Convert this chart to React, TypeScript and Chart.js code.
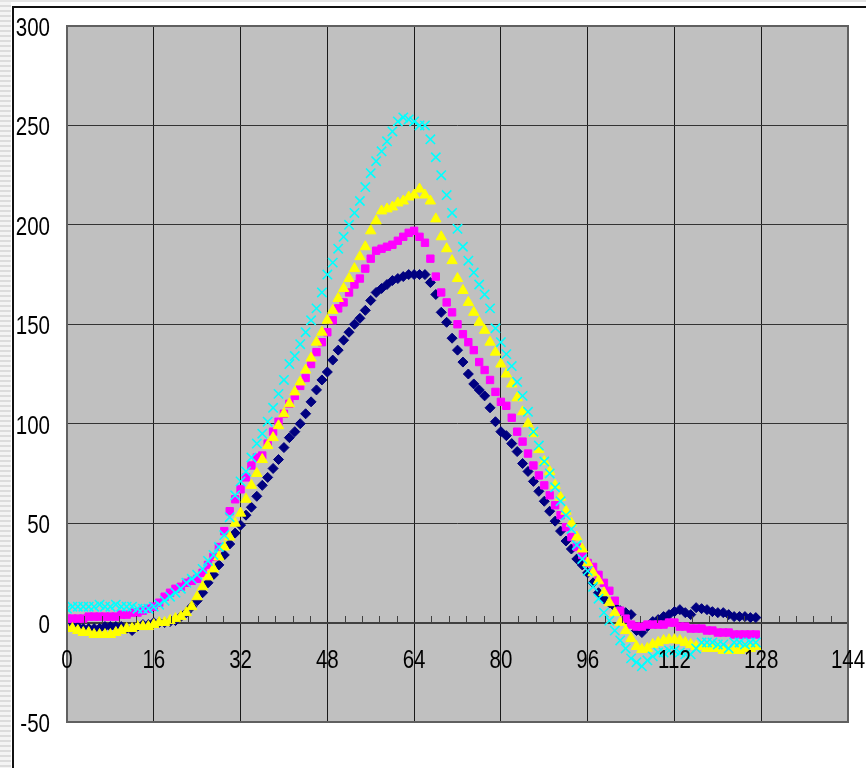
import React, { useEffect, useRef } from 'react';
import { Chart, registerables } from 'chart.js';

Chart.register(...registerables);

// Axis tick values
const xTickValues = [0, 16, 32, 48, 64, 80, 96, 112, 128, 144];
const yTickValues = [-50, 0, 50, 100, 150, 200, 250, 300];

// Series 1 (navy diamonds)
const navyValues = [
  -1, -2, -2, -3, -3, -3, -3, -2, -2, -2,
  -2, -3, -4, -2, -1, -1, 0, 0, 0, 0.5,
  1, 3, 5, 8, 11, 15, 20, 24, 29, 34,
  39.5, 45, 49, 54, 58, 63.5, 69, 73, 77.5, 82,
  88, 93, 96, 100, 105, 111, 117, 122, 126, 132,
  137, 142, 146, 150, 153, 157, 162, 166, 168, 170,
  172, 173, 174, 175, 175, 175, 175, 171, 165, 156,
  151, 143, 137, 131, 125, 120, 117, 114, 108, 101,
  96, 94, 90, 86, 80, 76, 71, 66, 61, 56,
  51, 46, 41, 37, 32, 29, 25, 20, 15, 12,
  10, 8, 6, 5, 4, -4, -5, -2, 0.5, 1.5,
  3, 4, 5.5, 6.5, 5, 4, 7.5, 7, 6.5, 5.5,
  5, 5, 4, 3, 3, 3, 2.5, 2.5,
];

// Series 2 (magenta squares)
const magentaValues = [
  2, 2, 2, 2, 3, 3, 3, 3, 3, 3,
  4, 4, 5, 5, 6, 7, 8, 10, 13, 15,
  17, 18, 20, 21, 22, 25, 29, 33, 38, 46,
  56, 62, 67, 73, 79, 83, 84, 90, 96, 101,
  105, 110, 114, 119, 123, 130, 136, 141, 146, 152,
  158, 161, 166, 170, 173, 178, 183, 187, 188, 189,
  190, 192, 194, 196, 197, 194, 191, 183, 174, 166,
  161, 156, 150, 145, 141, 137, 131, 127, 122, 116,
  111, 109, 103, 96, 91, 85, 79, 74, 69, 64,
  59, 54, 48, 43, 38, 34, 30, 28, 24, 20,
  16, 11, 6, 2, -1, -2, -2, -1, -1, -1,
  -1, 0, 0, -2, -2, -3, -3, -3, -4, -4,
  -5, -5, -5, -6, -6, -6, -6, -6,
];

// Series 3 (yellow triangles)
const yellowValues = [
  -3, -3, -4, -5, -5, -6, -6, -6, -6, -5,
  -4, -3, -3, -2, -2, -2, -1, 0, 0, 1,
  2, 3, 5, 8, 13, 18, 23, 27, 33, 38,
  43, 50, 55, 62, 69, 75, 82, 89, 93, 99,
  105, 110, 116, 121, 127, 133, 141, 146, 152, 157,
  163, 168, 173, 178, 184, 189, 197, 202, 207, 208,
  209, 211, 212, 214, 215, 218, 215, 212, 203, 194,
  188, 182, 173, 167, 161, 156, 151, 147, 141, 136,
  130, 125, 120, 113, 106, 100, 95, 87, 81, 76,
  69, 63, 56, 50, 43, 37, 30, 25, 21, 15,
  10, 5, 0, -4, -8, -12, -13.5, -13, -11, -10,
  -9, -8.6, -8.6, -9, -10, -11, -12, -12, -13, -13,
  -13, -14, -14, -14, -14, -13, -13, -12,
];

// Series 4 (cyan crosses)
const cyanValues = [
  7, 8, 8, 8, 8, 8, 9, 8, 8, 9,
  8, 8, 8, 7, 7, 7, 8, 9, 11, 13,
  15, 17, 20, 22, 24, 27, 31, 34, 38, 44,
  53, 64, 71, 76, 83, 90, 95, 101, 108, 115,
  122, 130, 134, 140, 146, 152, 158, 166, 175, 181,
  188, 194, 200, 206, 212, 219, 226, 232, 237, 242,
  247, 252, 254, 253, 252, 250, 250, 243, 234, 225,
  215, 206, 198, 189, 182, 176, 170, 165, 158, 148,
  141, 135, 129, 121, 114, 106, 96, 89, 81, 75,
  68, 61, 54, 47, 39, 32, 26, 18, 12, 5,
  1, -4, -9, -13, -18, -20, -22, -19, -17, -15,
  -15, -14, -14, -15, -16, -16, -13, -10, -10, -10,
  -11, -11, -13, -10, -10, -11, -10, -10,
];

const sampleIndex = navyValues.map((_, i) => i);

const LABEL_FONT = '25px "Liberation Sans", Arial, sans-serif';
const LABEL_SQUEEZE = 0.82; // narrow-face look for the axis numbers

const toPoints = (values: number[]) => sampleIndex.map((x, i) => ({ x, y: values[i] }));

// Grey plot area, its frame, minor ticks along the zero axis and the axis numbers
const plotFrame = {
  id: 'plotFrame',
  beforeDraw(chart: any) {
    const { ctx, chartArea: a } = chart;
    ctx.save();
    ctx.fillStyle = '#C0C0C0';
    ctx.fillRect(a.left, a.top, a.right - a.left, a.bottom - a.top);
    ctx.restore();
  },
  afterDatasetsDraw(chart: any) {
    const { ctx, chartArea: a, scales } = chart;
    ctx.save();
    ctx.strokeStyle = '#606060';
    ctx.lineWidth = 2;
    ctx.strokeRect(a.left, a.top, a.right - a.left, a.bottom - a.top);

    const y0 = Math.round(scales.y.getPixelForValue(0));
    ctx.strokeStyle = '#404040';
    ctx.lineWidth = 1;
    const minor = (xTickValues[1] - xTickValues[0]) / 5;
    for (let k = 0; k < (xTickValues.length - 1) * 5; k++) {
      if (k % 5 === 0) continue;
      const px = Math.round(scales.x.getPixelForValue(k * minor)) + 0.5;
      ctx.beginPath();
      ctx.moveTo(px, y0);
      ctx.lineTo(px, y0 - 7);
      ctx.stroke();
    }

    ctx.fillStyle = '#000';
    ctx.font = LABEL_FONT;
    ctx.textBaseline = 'alphabetic';

    ctx.textAlign = 'right';
    for (const v of yTickValues) {
      const py = scales.y.getPixelForValue(v);
      ctx.save();
      ctx.translate(a.left - 17, py + 10);
      ctx.scale(LABEL_SQUEEZE, 1);
      ctx.fillText(String(v), 0, 0);
      ctx.restore();
    }

    ctx.textAlign = 'center';
    for (const v of xTickValues) {
      const px = scales.x.getPixelForValue(v);
      ctx.save();
      ctx.translate(px, y0 + 45);
      ctx.scale(LABEL_SQUEEZE, 1);
      ctx.fillText(String(v), 0, 0);
      ctx.restore();
    }
    ctx.restore();
  },
};

export default function App() {
  const canvasRef = useRef<HTMLCanvasElement | null>(null);

  useEffect(() => {
    const canvas = canvasRef.current;
    if (!canvas) return;
    const chart = new Chart(canvas, {
      type: 'scatter',
      data: {
        datasets: [
          {
            label: 'Series 4',
            data: toPoints(cyanValues),
            pointStyle: 'crossRot',
            pointRadius: 6.6,
            borderColor: '#00FFFF',
            backgroundColor: '#00FFFF',
            borderWidth: 1.6,
            order: 0,
          },
          {
            label: 'Series 3',
            data: toPoints(yellowValues),
            pointStyle: 'triangle',
            pointRadius: 6,
            borderColor: '#FFFF00',
            backgroundColor: '#FFFF00',
            borderWidth: 1,
            order: 1,
          },
          {
            label: 'Series 2',
            data: toPoints(magentaValues),
            pointStyle: 'rect',
            pointRadius: 5.2,
            borderColor: '#FF00FF',
            backgroundColor: '#FF00FF',
            borderWidth: 1,
            order: 2,
          },
          {
            label: 'Series 1',
            data: toPoints(navyValues),
            pointStyle: 'rectRot',
            pointRadius: 5,
            borderColor: '#000080',
            backgroundColor: '#000080',
            borderWidth: 1,
            order: 3,
          },
        ],
      },
      options: {
        responsive: false,
        animation: false,
        events: [],
        layout: { padding: { left: 0, top: 26, right: 18, bottom: 46 } },
        plugins: {
          legend: { display: false },
          tooltip: { enabled: false },
        },
        scales: {
          x: {
            type: 'linear',
            position: { y: 0 } as any,
            min: 0,
            max: 144,
            afterBuildTicks: (s: any) => {
              s.ticks = xTickValues.map((value) => ({ value }));
            },
            grid: { color: '#1a1a1a', lineWidth: 1, drawTicks: false },
            border: { display: true, color: '#404040', width: 2 },
            ticks: { display: false },
          },
          y: {
            type: 'linear',
            min: -50,
            max: 300,
            afterBuildTicks: (s: any) => {
              s.ticks = yTickValues.map((value) => ({ value }));
            },
            afterFit: (s: any) => {
              s.width = 67;
            },
            grid: { color: '#333', lineWidth: 1, drawTicks: false },
            border: { display: false },
            ticks: { display: false },
          },
        },
      },
      plugins: [plotFrame],
    });
    return () => chart.destroy();
  }, []);

  return (
    <div
      style={{
        position: 'fixed',
        left: 0,
        top: 0,
        width: 866,
        height: 768,
        background: '#fff',
        overflow: 'hidden',
      }}
    >
      <div
        style={{
          position: 'absolute',
          left: 0,
          top: 0,
          width: 11,
          height: 768,
          background: 'repeating-linear-gradient(to bottom, #dcdcdc 0px, #dcdcdc 2px, #f4f4f4 2px, #f4f4f4 5px)',
        }}
      />
      <div style={{ position: 'absolute', left: 0, top: 0, width: 866, height: 2, background: '#e4e4e4' }} />
      <div style={{ position: 'absolute', left: 12, top: 6, width: 854, height: 2, background: '#111' }} />
      <div style={{ position: 'absolute', left: 12, top: 6, width: 2, height: 762, background: '#111' }} />
      <canvas
        ref={canvasRef}
        width={866}
        height={768}
        style={{ position: 'absolute', left: 0, top: 0, width: 866, height: 768 }}
      />
    </div>
  );
}
